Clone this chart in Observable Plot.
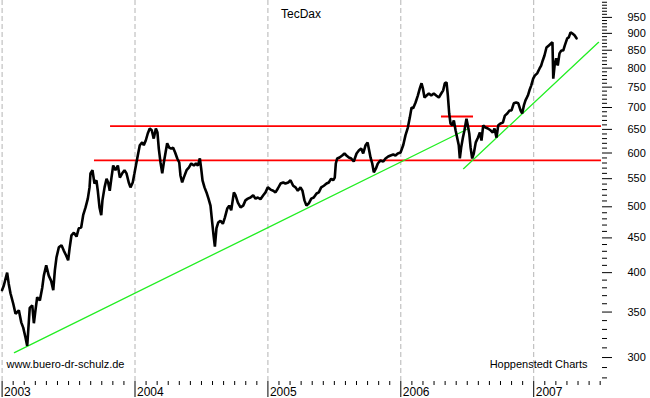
<!DOCTYPE html>
<html>
<head>
<meta charset="utf-8">
<script src="https://cdn.jsdelivr.net/npm/d3@7"></script>
<script src="https://cdn.jsdelivr.net/npm/@observablehq/plot@0.6"></script>
<style>
  html, body { margin: 0; padding: 0; background: white; }
  #chart svg { display: block; }
</style>
</head>
<body>
<div id="chart"></div>
<script>
// TecDax daily level: [decimal year, index value]
const d2003 = [[2003.000,377],[2003.013,383],[2003.038,400],[2003.050,385],[2003.063,373],[2003.084,360],[2003.101,348],[2003.126,352],[2003.144,338],[2003.159,332],[2003.176,321],[2003.189,312],[2003.208,355],[2003.227,358],[2003.239,337],[2003.251,352],[2003.264,368],[2003.284,364],[2003.302,380],[2003.314,396],[2003.332,410],[2003.351,396],[2003.369,389],[2003.385,377],[2003.397,403],[2003.409,421],[2003.427,436],[2003.447,439],[2003.464,431],[2003.482,424],[2003.497,417],[2003.509,436],[2003.522,454],[2003.540,458],[2003.560,452],[2003.577,465],[2003.595,466],[2003.610,486],[2003.628,499],[2003.645,514],[2003.658,534],[2003.665,560],[2003.680,566],[2003.695,541],[2003.710,547],[2003.720,528],[2003.733,499],[2003.746,486],[2003.755,511],[2003.771,534],[2003.786,550],[2003.798,543],[2003.810,528],[2003.823,552],[2003.836,575],[2003.853,566],[2003.871,575],[2003.886,552],[2003.904,560],[2003.921,566],[2003.936,560],[2003.953,543],[2003.966,534],[2003.983,543],[2003.996,560]];
const d2004 = [[2004.011,581],[2004.021,595],[2004.036,616],[2004.054,622],[2004.066,616],[2004.081,626],[2004.096,641],[2004.111,652],[2004.126,648],[2004.141,630],[2004.157,652],[2004.169,643],[2004.179,609],[2004.192,581],[2004.205,560],[2004.217,581],[2004.230,601],[2004.242,620],[2004.257,611],[2004.272,609],[2004.287,611],[2004.302,601],[2004.318,589],[2004.333,581],[2004.342,556],[2004.355,543],[2004.367,552],[2004.388,566],[2004.405,571],[2004.423,579],[2004.443,575],[2004.458,579],[2004.473,575],[2004.488,589],[2004.498,569],[2004.508,547],[2004.523,534],[2004.538,525],[2004.553,514],[2004.568,502],[2004.581,474],[2004.591,454],[2004.601,437],[2004.613,465],[2004.626,474],[2004.643,477],[2004.661,472],[2004.676,482],[2004.694,497],[2004.709,502],[2004.724,494],[2004.744,525],[2004.756,520],[2004.774,507],[2004.794,499],[2004.814,502],[2004.831,511],[2004.849,514],[2004.869,516],[2004.889,520],[2004.907,514],[2004.924,516],[2004.944,513],[2004.965,520],[2004.982,525],[2004.999,534]];
const d2005 = [[2005.020,530],[2005.040,528],[2005.057,525],[2005.075,532],[2005.095,541],[2005.115,543],[2005.132,541],[2005.153,543],[2005.170,547],[2005.190,537],[2005.208,534],[2005.225,528],[2005.245,534],[2005.260,528],[2005.275,511],[2005.290,502],[2005.308,506],[2005.326,514],[2005.345,516],[2005.366,523],[2005.383,525],[2005.401,534],[2005.421,537],[2005.441,541],[2005.458,543],[2005.476,550],[2005.491,547],[2005.503,552],[2005.511,579],[2005.521,589],[2005.539,591],[2005.559,595],[2005.576,599],[2005.591,595],[2005.609,591],[2005.627,589],[2005.646,583],[2005.667,599],[2005.684,605],[2005.702,609],[2005.717,599],[2005.735,616],[2005.750,622],[2005.762,605],[2005.772,591],[2005.785,579],[2005.797,562],[2005.812,569],[2005.827,579],[2005.847,585],[2005.868,583],[2005.885,589],[2005.905,593],[2005.923,595],[2005.943,597],[2005.960,595],[2005.977,599],[2005.998,601]];
const d2006 = [[2006.018,616],[2006.035,637],[2006.053,654],[2006.068,677],[2006.081,700],[2006.093,698],[2006.111,712],[2006.128,729],[2006.143,747],[2006.156,760],[2006.166,747],[2006.178,724],[2006.194,729],[2006.211,734],[2006.229,729],[2006.248,734],[2006.266,729],[2006.286,724],[2006.304,734],[2006.319,742],[2006.331,760],[2006.344,762],[2006.354,729],[2006.364,686],[2006.374,663],[2006.387,659],[2006.399,670],[2006.412,648],[2006.424,632],[2006.436,616],[2006.444,589],[2006.454,611],[2006.467,632],[2006.479,648],[2006.494,674],[2006.504,659],[2006.515,641],[2006.525,611],[2006.537,589],[2006.549,599],[2006.564,622],[2006.580,632],[2006.595,643],[2006.607,626],[2006.620,659],[2006.637,654],[2006.655,652],[2006.675,648],[2006.692,643],[2006.705,652],[2006.720,632],[2006.733,659],[2006.750,663],[2006.768,665],[2006.783,681],[2006.801,686],[2006.818,693],[2006.833,693],[2006.850,710],[2006.868,712],[2006.884,710],[2006.901,693],[2006.913,686],[2006.926,705],[2006.938,717],[2006.956,729],[2006.968,742],[2006.981,754],[2006.996,772]];
const d2007 = [[2007.008,780],[2007.026,786],[2007.044,799],[2007.056,807],[2007.068,821],[2007.081,835],[2007.096,858],[2007.114,864],[2007.132,870],[2007.141,873],[2007.147,772],[2007.157,807],[2007.169,827],[2007.181,807],[2007.194,841],[2007.207,849],[2007.222,849],[2007.234,864],[2007.252,885],[2007.264,888],[2007.277,903],[2007.289,900],[2007.307,894],[2007.322,885]];

// Horizontal resistance / support levels (red)
const levelValues = [585, 657];
const levelStart = [2003.695, 2003.816];
const shortLevel = [{v: 679, x1: 2006.306, x2: 2006.547}];

// Green trend lines: [decimal year, value]
const trend1 = [[2003.093, 305], [2006.510, 652]];
const trend2 = [[2006.472, 569], [2007.488, 873]];

// Axes
const xDomain = [2002.988, 2007.51];
const yDomain = [276.6, 1006];
const yearTicks = [2003, 2004, 2005, 2006, 2007];
const yMajor = [300, 350, 400, 450, 500, 550, 600, 650, 700, 750, 800, 850, 900, 950];
const yMinor = d3.range(280, 1001, 10).filter(v => !yMajor.includes(v));
const monthTicks = [];
for (const y of [2003, 2004, 2005, 2006, 2007]) for (let m = 1; m < 12; m++) { const t = y + m / 12; if (t <= xDomain[1]) monthTicks.push(t); }

const series = [...d2003, ...d2004, ...d2005, ...d2006, ...d2007].map(([t, v]) => ({t, v}));
const levels = levelValues.map((v, i) => ({v, x1: levelStart[i], x2: xDomain[1]}));

const font = "'Liberation Sans', Arial, sans-serif";

const chart = Plot.plot({
  width: 650,
  height: 398,
  marginLeft: 0,
  marginRight: 49,
  marginTop: 0,
  marginBottom: 17,
  style: {background: "white", color: "black", fontFamily: font, fontSize: "11px", overflow: "visible"},
  x: {type: "linear", domain: xDomain, label: null},
  y: {type: "log", domain: yDomain, label: null},
  marks: [
    Plot.gridX(yearTicks, {stroke: "#b4b4b4", strokeOpacity: 1, strokeDasharray: "5,3"}),
    Plot.ruleY(levels, {y: "v", x1: "x1", x2: "x2", stroke: "#ff0000", strokeWidth: 1.8}),
    Plot.ruleY(shortLevel, {y: "v", x1: "x1", x2: "x2", stroke: "#ff0000", strokeWidth: 1.8}),
    Plot.line(trend1, {x: d => d[0], y: d => d[1], stroke: "#22ee22", strokeWidth: 1.3}),
    Plot.line(trend2, {x: d => d[0], y: d => d[1], stroke: "#22ee22", strokeWidth: 1.3}),
    Plot.line(series, {x: "t", y: "v", stroke: "black", strokeWidth: 2.6, strokeLinejoin: "miter"}),
    // right y axis
    Plot.axisY(yMinor, {anchor: "right", tickSize: 5, tickFormat: () => "", label: null}),
    Plot.axisY(yMajor, {anchor: "right", tickSize: 10, tickPadding: 16, tickFormat: d => String(d), label: null, line: true, fontSize: 11}),
    // bottom x axis
    Plot.axisX(monthTicks, {anchor: "bottom", tickSize: 4, tickFormat: () => "", label: null}),
    Plot.axisX(yearTicks, {anchor: "bottom", tickSize: 16, tickFormat: () => "", label: null, line: true}),
    Plot.text(yearTicks, {x: d => d, text: d => String(d), frameAnchor: "bottom", textAnchor: "start", lineAnchor: "top", dx: 2, dy: 6, fontSize: 12}),
    // labels
    Plot.text(["TecDax"], {frameAnchor: "top", lineAnchor: "top", dy: 9, fontSize: 12}),
    Plot.text(["www.buero-dr-schulz.de"], {frameAnchor: "bottom-left", textAnchor: "start", lineAnchor: "bottom", dx: 6, dy: -14, fontSize: 11}),
    Plot.text(["Hoppenstedt Charts"], {frameAnchor: "bottom-right", textAnchor: "end", lineAnchor: "bottom", dx: -14, dy: -14, fontSize: 11})
  ]
});
document.getElementById("chart").appendChild(chart);
</script>
</body>
</html>
